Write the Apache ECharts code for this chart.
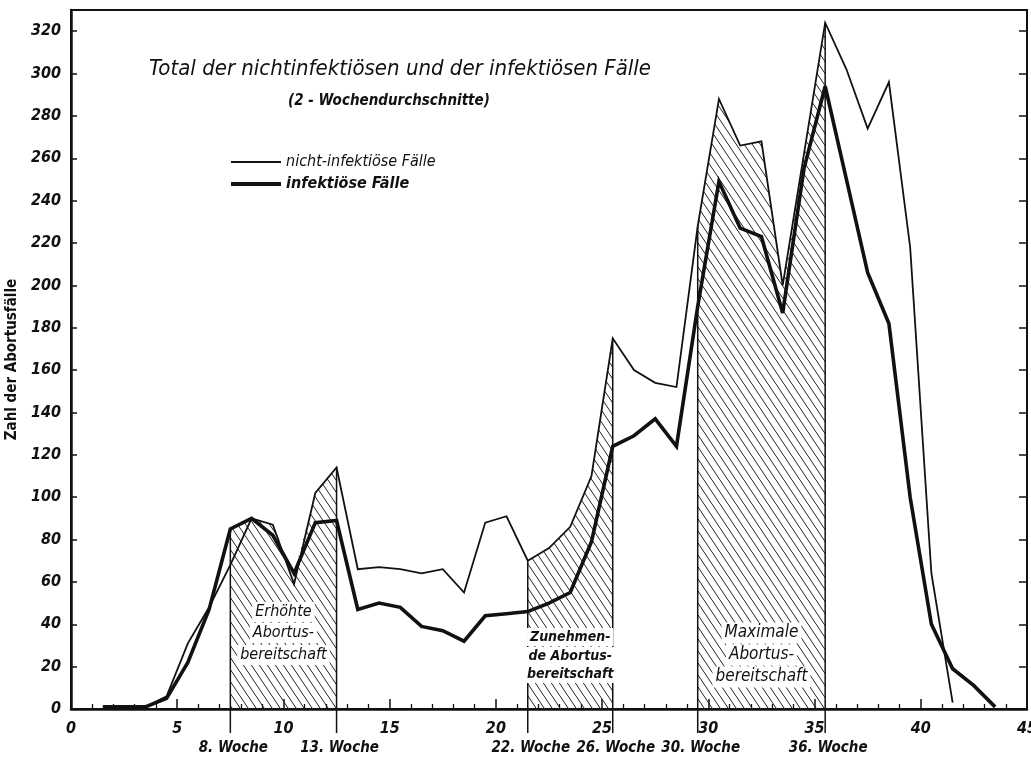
<!DOCTYPE html>
<html lang="de">
<head>
<meta charset="UTF-8">
<title>Abortusfälle</title>
<script src="https://cdn.jsdelivr.net/npm/echarts@6/dist/echarts.min.js"></script>
<style>
    html, body { margin: 0; background: #fff; }
    #chart { width: 1031px; height: 760px; }
</style>
</head>
<body>
<div id="chart"></div>
<script>
    const weeks = [1.5, 2.5, 3.5, 4.5, 5.5, 6.5, 7.5, 8.5, 9.5, 10.5, 11.5, 12.5, 13.5, 14.5, 15.5,
        16.5, 17.5, 18.5, 19.5, 20.5, 21.5, 22.5, 23.5, 24.5, 25.5, 26.5, 27.5, 28.5, 29.5, 30.5,
        31.5, 32.5, 33.5, 34.5, 35.5, 36.5, 37.5, 38.5, 39.5, 40.5, 41.5, 42.5, 43.5];
    const nichtInfektioes = [1, 1, 1, 6, 31, 48, 68, 90, 87, 59, 102, 114, 66, 67, 66,
        64, 66, 55, 88, 91, 70, 76, 86, 110, 175, 160, 154, 152, 228, 288,
        266, 268, 200, 262, 324, 302, 274, 296, 218, 64, 3, null, null];
    const infektioes = [1, 1, 1, 5, 22, 47, 85, 90, 82, 64, 88, 89, 47, 50, 48,
        39, 37, 32, 44, 45, 46, 50, 55, 79, 124, 129, 137, 124, 190, 249,
        227, 223, 187, 255, 294, 250, 206, 182, 100, 40, 19, 11, 1];

    // schraffierte Phasen
    const phaseBounds = [[7.5, 12.5], [21.5, 25.5], [29.5, 35.5]];
    const phaseWeekLabels = [['8. Woche', '13. Woche'], ['22. Woche', '26. Woche'], ['30. Woche', '36. Woche']];
    const phaseTexts = [
        ['Erhöhte', 'Abortus-', 'bereitschaft'],
        ['Zunehmen-', 'de Abortus-', 'bereitschaft'],
        ['Maximale', 'Abortus-', 'bereitschaft']
    ];

    // Layout der Phasentexte (Pixel über der x-Achse) und Schrift
    const phaseTextRows = [[97, 76, 54], [72, 53, 35], [76, 54, 32]];
    const phaseTextFont = [
        'italic 16px "Liberation Sans Narrow", "DejaVu Sans Condensed", sans-serif',
        'italic bold 14px "Liberation Sans Narrow", "DejaVu Sans Condensed", sans-serif',
        'italic 17px "Liberation Sans Narrow", "DejaVu Sans Condensed", sans-serif'
    ];
    const FONT = '"Liberation Sans Narrow", "DejaVu Sans Condensed", sans-serif';

    const envelope = weeks.map((w, k) => Math.max(nichtInfektioes[k] || 0, infektioes[k] || 0));

    function hatchCanvas() {
        const w = 8, h = 12;
        const c = document.createElement('canvas');
        c.width = w;
        c.height = h;
        const ctx = c.getContext('2d');
        ctx.strokeStyle = '#222';
        ctx.lineWidth = 1;
        ctx.beginPath();
        [-w, 0, w].forEach(dx => {
            ctx.moveTo(dx, 0);
            ctx.lineTo(dx + w, h);
        });
        ctx.stroke();
        return c;
    }
    const hatch = hatchCanvas();

    const toPairs = vals => weeks.map((w, k) => [w, vals[k]]).filter(p => p[1] != null);

    const myChart = echarts.init(document.querySelector('#chart'));
    const option = {
        animation: false,
        backgroundColor: '#fff',
        title: [
            {
                text: 'Total der nichtinfektiösen und der infektiösen Fälle',
                left: 144, top: 53,
                textStyle: { fontSize: 22, fontStyle: 'italic', fontWeight: 'normal', fontFamily: FONT, color: '#111' }
            },
            {
                text: '(2 - Wochendurchschnitte)',
                left: 283, top: 89,
                textStyle: { fontSize: 15, fontStyle: 'italic', fontWeight: 'bold', fontFamily: FONT, color: '#111' }
            }
        ],
        legend: [
            {
                data: ['nicht-infektiöse Fälle'],
                left: 226, top: 149,
                icon: 'rect', itemWidth: 50, itemHeight: 2,
                selectedMode: false,
                textStyle: { fontSize: 16, fontStyle: 'italic', fontFamily: FONT, color: '#111' }
            },
            {
                data: ['infektiöse Fälle'],
                left: 226, top: 171,
                icon: 'rect', itemWidth: 50, itemHeight: 4,
                selectedMode: false,
                textStyle: { fontSize: 16, fontStyle: 'italic', fontWeight: 'bold', fontFamily: FONT, color: '#111' }
            }
        ],
        grid: {
            left: 71, right: 4, top: 10, bottom: 51,
            show: true, borderColor: '#111', borderWidth: 2,
            outerBoundsMode: 'none'
        },
        xAxis: {
            type: 'value', min: 0, max: 45, interval: 5,
            axisLine: { lineStyle: { color: '#111', width: 2.5 } },
            axisTick: { inside: true, length: 10, lineStyle: { color: '#111', width: 1.5 } },
            minorTick: { show: true, splitNumber: 5, length: 5, lineStyle: { color: '#111', width: 1.3 } },
            axisLabel: { margin: 12, fontSize: 16, fontStyle: 'italic', fontWeight: 'bold', fontFamily: FONT, color: '#111' },
            splitLine: { show: false }
        },
        yAxis: [
            {
                type: 'value', min: 0, max: 330, interval: 20,
                name: 'Zahl der Abortusfälle',
                nameLocation: 'middle', nameGap: 46,
                nameTextStyle: { fontSize: 15, fontWeight: 'bold', fontFamily: FONT, color: '#111' },
                axisLine: { show: true, lineStyle: { color: '#111', width: 2.5 } },
                axisTick: { show: true, inside: true, length: 6, lineStyle: { color: '#111', width: 1.5 } },
                axisLabel: { showMaxLabel: false, margin: 10, fontSize: 16, fontStyle: 'italic', fontWeight: 'bold', fontFamily: FONT, color: '#111' },
                splitLine: { show: false }
            },
            {
                type: 'value', position: 'right', min: 0, max: 330, interval: 20,
                axisLine: { show: true, lineStyle: { color: '#111', width: 2 } },
                axisTick: { show: true, inside: true, length: 8, lineStyle: { color: '#111', width: 1.5 } },
                axisLabel: { show: false },
                splitLine: { show: false }
            }
        ],
        series: [
            {
                type: 'custom',
                coordinateSystem: 'cartesian2d',
                clip: false,
                z: 1,
                silent: true,
                data: phaseBounds.map(b => [b[0], b[1], 0]),
                encode: { x: [0, 1], y: 2 },
                renderItem: (params, api) => {
                    const i = params.dataIndex;
                    const [x0, x1] = phaseBounds[i];
                    const pts = [];
                    weeks.forEach((w, k) => {
                        if (w >= x0 && w <= x1) pts.push(api.coord([w, envelope[k]]));
                    });
                    const b0 = api.coord([x0, 0]);
                    const b1 = api.coord([x1, 0]);
                    const mid = api.coord([(x0 + x1) / 2, 0]);
                    const children = [
                        {
                            type: 'polygon',
                            shape: { points: [b0].concat(pts, [b1]) },
                            style: { fill: { image: hatch, repeat: 'repeat' } }
                        },
                        {
                            type: 'line',
                            shape: { x1: pts[0][0], y1: pts[0][1], x2: b0[0], y2: b0[1] + 24 },
                            style: { stroke: '#111', lineWidth: 1.5 }
                        },
                        {
                            type: 'line',
                            shape: { x1: pts[pts.length - 1][0], y1: pts[pts.length - 1][1], x2: b1[0], y2: b1[1] + 24 },
                            style: { stroke: '#111', lineWidth: 1.5 }
                        }
                    ];
                    [b0, b1].forEach((b, j) => {
                        children.push({
                            type: 'text', x: b[0] + 3, y: b[1] + 39,
                            style: {
                                text: phaseWeekLabels[i][j], fill: '#111',
                                font: 'italic bold 15px ' + FONT,
                                align: 'center', verticalAlign: 'middle'
                            }
                        });
                    });
                    phaseTexts[i].forEach((t, j) => {
                        children.push({
                            type: 'text', x: mid[0], y: mid[1] - phaseTextRows[i][j],
                            style: {
                                text: t, fill: '#111', font: phaseTextFont[i],
                                align: 'center', verticalAlign: 'middle',
                                backgroundColor: '#fff', padding: [2, 3]
                            }
                        });
                    });
                    return { type: 'group', children };
                }
            },
            {
                name: 'nicht-infektiöse Fälle',
                type: 'line',
                z: 3,
                symbol: 'none',
                data: toPairs(nichtInfektioes),
                itemStyle: { color: '#111' },
                lineStyle: { color: '#111', width: 1.8, join: 'miter', miterLimit: 4 }
            },
            {
                name: 'infektiöse Fälle',
                type: 'line',
                z: 3,
                symbol: 'none',
                data: toPairs(infektioes),
                itemStyle: { color: '#111' },
                lineStyle: { color: '#111', width: 3.6, join: 'miter', miterLimit: 4 }
            }
        ]
    };
    myChart.setOption(option);
</script>
</body>
</html>
